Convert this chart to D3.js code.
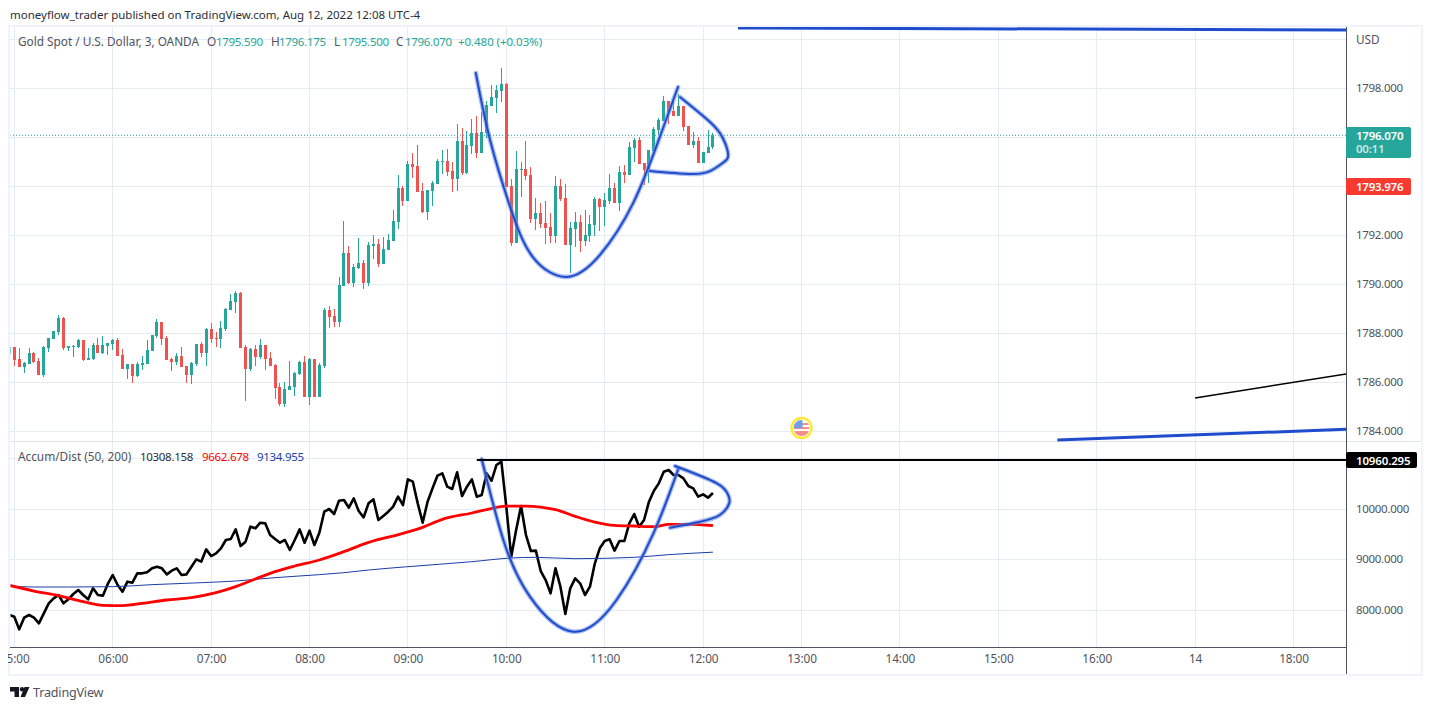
<!DOCTYPE html>
<html>
<head>
<meta charset="utf-8">
<script src="https://cdn.jsdelivr.net/npm/d3@7"></script>
<style>
  html, body { margin: 0; padding: 0; background: #fff; }
  svg { display: block; font-family: "Noto Sans", sans-serif; }
  .axis text { fill: #50535e; font-size: 11.5px; letter-spacing: -0.3px; font-family: "Noto Sans", sans-serif; }
  .axis.time text { font-size: 11.8px; letter-spacing: -0.1px; }
</style>
</head>
<body>
<svg id="chart" width="1432" height="710"></svg>
<script>
// bars are 3 minute candles, bar 0 is the 05:00 candle. first one is cut off by the pane
const firstBar = -1;

const opens = [1787.14,
  1787.43,1786.94,1786.61,1786.73,1787.18,1786.85,1786.28,1787.38,1787.75,1788.04,
  1788.61,1787.38,1787.43,1787.43,1787.71,1786.90,1786.94,1787.51,1787.18,1787.47,
  1787.55,1787.71,1787.10,1786.53,1786.73,1786.24,1786.69,1786.73,1787.26,1787.87,
  1788.45,1787.79,1786.94,1786.81,1787.06,1786.65,1786.28,1786.73,1787.55,1787.18,
  1788.16,1787.79,1787.75,1788.16,1788.94,1789.26,1789.63,1787.43,1786.53,1787.34,
  1787.02,1787.51,1786.98,1786.69,1785.79,1785.10,1785.67,1785.79,1786.32,1786.81,
  1785.38,1786.94,1785.38,1786.65,1788.94,1788.69,1788.45,1789.92,1791.26,1790.04,
  1790.65,1790.85,1790.04,1791.55,1791.63,1790.81,1791.39,1791.75,1792.53,1793.92,
  1793.39,1794.90,1794.81,1793.79,1792.94,1793.79,1794.08,1794.98,1795.02,1794.61,
  1794.28,1795.83,1794.53,1795.63,1796.16,1795.34,1796.16,1797.26,1797.59,1797.88,
  1798.16,1794.00,1791.68,1794.66,1794.70,1794.45,1792.66,1792.90,1792.49,1792.33,
  1791.96,1794.00,1793.51,1791.60,1792.25,1792.53,1791.76,1791.96,1792.41,1793.47,
  1793.15,1793.39,1793.92,1793.31,1794.57,1794.45,1795.55,1795.88,1794.94,1794.66,
  1795.43,1796.29,1796.66,1797.47,1797.07,1796.86,1797.27,1796.45,1795.68,1795.84,
  1794.94,1795.35,1795.59];
const highs = [1787.43,
  1787.43,1787.38,1786.81,1787.38,1787.22,1786.98,1787.47,1787.79,1788.08,1788.73,
  1788.65,1787.47,1787.51,1787.75,1787.71,1787.38,1787.59,1787.79,1787.87,1787.59,
  1787.75,1787.79,1787.34,1786.73,1786.73,1786.81,1787.06,1787.71,1787.92,1788.57,
  1788.45,1787.87,1786.98,1787.18,1787.43,1786.65,1786.81,1787.55,1787.63,1788.20,
  1788.40,1788.04,1788.49,1789.02,1789.59,1789.71,1789.67,1787.51,1787.38,1787.51,
  1787.75,1787.51,1787.22,1786.73,1785.96,1786.00,1786.85,1786.41,1786.85,1787.06,
  1786.98,1786.94,1786.77,1789.02,1789.10,1788.98,1790.28,1792.57,1791.55,1790.81,
  1791.88,1790.98,1791.71,1792.00,1791.83,1791.92,1792.04,1793.02,1794.45,1794.00,
  1795.02,1795.34,1795.67,1794.12,1793.83,1794.20,1795.10,1795.47,1795.51,1794.98,
  1796.53,1796.37,1796.24,1796.73,1796.85,1797.02,1797.47,1798.12,1798.12,1798.81,
  1798.20,1794.29,1795.43,1794.98,1795.84,1794.78,1793.51,1793.31,1793.39,1792.90,
  1794.41,1794.29,1794.09,1792.53,1792.94,1792.82,1793.02,1792.82,1793.55,1793.51,
  1793.72,1794.49,1794.13,1794.82,1794.86,1795.80,1795.96,1796.00,1794.94,1795.47,
  1796.41,1796.78,1797.68,1797.47,1797.43,1797.76,1797.27,1796.45,1796.21,1796.00,
  1795.39,1796.29,1796.175];
const lows = [1787.14,
  1786.66,1786.61,1786.38,1786.73,1786.77,1786.28,1786.20,1787.22,1787.75,1787.92,
  1787.30,1787.26,1787.02,1787.38,1786.85,1786.90,1786.90,1787.18,1787.14,1787.10,
  1787.30,1787.06,1786.53,1786.12,1785.96,1786.20,1786.49,1786.73,1787.26,1787.79,
  1787.51,1786.90,1786.45,1786.69,1786.61,1785.96,1785.91,1786.65,1787.02,1786.65,
  1787.59,1787.43,1787.38,1788.08,1788.94,1788.81,1787.38,1785.22,1786.45,1786.65,
  1786.94,1786.49,1786.65,1785.30,1785.02,1784.98,1785.67,1785.43,1786.28,1785.38,
  1785.06,1785.38,1785.38,1786.57,1788.20,1788.24,1788.24,1789.92,1790.00,1789.88,
  1790.61,1789.79,1789.92,1791.02,1790.69,1790.81,1791.39,1791.75,1792.24,1793.18,
  1793.39,1794.32,1793.75,1792.90,1792.61,1793.18,1794.08,1794.49,1794.41,1793.75,
  1793.79,1794.45,1794.49,1795.30,1795.14,1795.34,1795.96,1797.26,1796.98,1797.43,
  1793.96,1791.55,1791.68,1793.55,1794.25,1792.49,1792.21,1792.29,1791.64,1791.68,
  1791.68,1793.39,1791.60,1790.45,1791.51,1791.31,1791.55,1791.72,1791.96,1792.17,
  1792.37,1793.27,1793.31,1792.98,1794.13,1794.45,1794.98,1794.90,1794.04,1794.13,
  1795.43,1796.09,1796.66,1796.53,1796.86,1796.86,1796.25,1795.68,1795.55,1794.94,
  1794.94,1795.35,1795.50];
const closes = [1787.43,
  1786.90,1786.61,1786.76,1787.18,1786.81,1786.28,1787.43,1787.79,1788.08,1788.61,
  1787.38,1787.47,1787.47,1787.71,1786.90,1786.98,1787.51,1787.18,1787.51,1787.59,
  1787.71,1787.06,1786.53,1786.73,1786.24,1786.73,1786.77,1787.30,1787.92,1788.45,
  1787.75,1786.90,1786.81,1787.06,1786.61,1786.28,1786.77,1787.55,1787.18,1788.16,
  1787.75,1787.75,1788.20,1788.98,1789.30,1789.63,1787.38,1786.53,1787.34,1787.02,
  1787.51,1786.94,1786.65,1785.75,1785.10,1785.71,1785.83,1786.36,1786.81,1785.38,
  1786.94,1785.38,1786.69,1788.94,1788.65,1788.45,1789.96,1791.26,1790.04,1790.69,
  1790.85,1790.04,1791.59,1791.63,1790.81,1791.43,1791.79,1792.57,1793.92,1793.39,
  1794.90,1794.77,1793.75,1792.94,1793.83,1794.12,1795.02,1795.02,1794.57,1794.28,
  1795.83,1794.53,1795.67,1796.16,1795.34,1796.20,1797.30,1797.63,1797.92,1798.16,
  1793.96,1791.68,1794.70,1794.70,1794.41,1792.66,1792.90,1792.45,1792.29,1791.96,
  1794.00,1793.47,1791.60,1792.29,1792.53,1791.76,1792.00,1792.45,1793.47,1793.15,
  1793.43,1793.92,1793.31,1794.57,1794.45,1795.60,1795.88,1794.90,1794.66,1795.47,
  1796.33,1796.70,1797.47,1797.02,1796.86,1797.27,1796.41,1795.68,1795.84,1794.94,
  1795.39,1795.60,1796.07];

// Accum/Dist, one value per bar
const adValues = [7891,
  7858,7607,7838,7891,7838,7726,7924,8122,8221,8287,
  8122,8201,8307,8386,8287,8201,8419,8287,8274,8505,
  8683,8485,8353,8551,8531,8716,8716,8736,8815,8848,
  8815,8696,8769,8815,8683,8696,8848,8993,8947,9191,
  9059,9112,9211,9376,9396,9587,9257,9343,9640,9607,
  9719,9706,9475,9396,9323,9376,9178,9376,9587,9323,
  9561,9277,9521,9937,9990,9891,10155,10168,10016,10201,
  9950,9825,10102,10181,9772,9851,9937,10036,10234,10069,
  10577,10531,10102,9719,10135,10399,10650,10696,10432,10386,
  10716,10247,10432,10577,10234,10267,10696,10551,10861,10927,
  10036,9046,9574,10049,9475,9158,9165,8762,8584,8320,
  8815,8452,7911,8419,8617,8518,8287,8452,8914,9211,
  9356,9389,9165,9356,9356,9706,9891,9640,9772,10135,
  10353,10498,10729,10762,10663,10663,10597,10445,10399,10234,
  10280,10214,10308];

// the two averages, read at a handful of bars
const ma50Bars = [-1,4,9,14,18,22,26,31,36,41,45,49,53,57,62,67,72,79,83,87,93,96,100,104,107,110,114,118,122,126,130,133,137,142];
const ma50Values = [8478,8366,8274,8155,8082,8076,8122,8188,8234,8333,8452,8604,8749,8861,8980,9145,9330,9508,9627,9785,9911,9977,10049,10049,10029,9977,9845,9732,9666,9653,9640,9686,9686,9663];
const ma200Bars = [-1,4,11,20,28,38,45,49,53,62,67,72,80,93,101,106,114,126,133,142];
const ma200Values = [8465,8445,8445,8452,8492,8531,8564,8597,8630,8690,8729,8782,8848,8947,9020,9033,9006,9033,9086,9135];

// hand drawn cup and handle, [bar, value]
const cupPrice = [[93.8,1798.61],[96.7,1795.88],[100.8,1793.14],[105.4,1791.1],[112.3,1790.29],[119,1791.18],[125.8,1793.31],[131.2,1796],[134.9,1798.04]];
const handlePrice = [[135.3,1797.63],[141.4,1796.61],[144,1795.96],[145.1,1795.27],[144,1794.94],[141.4,1794.61],[137.3,1794.49],[129.2,1794.61]];
const cupAd = [[95,10980],[99.4,9376],[104.8,8254],[113.6,7561],[122.4,8188],[129.9,9508],[135,10795]];
const handleAd = [[134.3,10841],[142.8,10498],[145.1,10267],[145.3,10102],[143.4,9871],[139.4,9739],[133.3,9620]];

// straight trend lines, the last bar is past the right edge of the pane
const topLine = [[147.1,1800.45],[270.7,1800.37]];
const lowerLine = [[212,1783.63],[270.7,1784.07]];
const blackLine = [[240,1785.35],[270.7,1786.33]];
const adLevel = 10960.295;
const adLevelStartBar = 94;

const priceTicks = [1800,1798,1796,1794,1792,1790,1788,1786,1784];
const adTicks = [11000,10000,9000,8000];
const axisPriceLabels = [1798,1792,1790,1788,1786,1784];  // 1796 and 1794 are covered by the price tags
const adLabels = [10000,9000,8000];
const timeBars = [0,20,40,60,80,100,120,140,160,180,200,220,240,260];
const timeLabels = ["05:00","06:00","07:00","08:00","09:00","10:00","11:00","12:00","13:00","14:00","15:00","16:00","14","18:00"];
const lastPrice = 1796.07;
const otherPrice = 1793.976;
const eventBar = 160, eventPrice = 1784.12;

const candles = opens.map((o, i) => ({bar: firstBar + i, o, h: highs[i], l: lows[i], c: closes[i]}));

const UP = "#26a69a", DOWN = "#ef5350", GRID = "#e3ecf3", BRUSH = "#1e4ccc", AXIS = "#50535e";
const paneL = 10, paneR = 1346, frameT = 27, frameB = 674, sepY = 441, timeY = 647;

const svg = d3.select("#chart");
const x = d3.scaleLinear().domain([0, 20]).range([14.3, 112.7]);
const y = d3.scaleLinear().domain([1784, 1798]).range([431, 88]);
const yAd = d3.scaleLinear().domain([8000, 10000]).range([609.5, 508.5]);

svg.append("defs").append("clipPath").attr("id", "pane")
  .append("rect").attr("x", paneL + 0.5).attr("y", frameT).attr("width", paneR - paneL - 0.5).attr("height", timeY - frameT);
svg.select("defs").append("clipPath").attr("id", "timeClip")
  .append("rect").attr("x", 8).attr("y", timeY).attr("width", paneR - 8).attr("height", frameB - timeY);

// grid
const grid = svg.append("g").attr("stroke", GRID).attr("stroke-width", 1).attr("shape-rendering", "crispEdges");
grid.selectAll(".v").data(timeBars).join("line")
  .attr("x1", d => Math.floor(x(d)) + 0.5).attr("x2", d => Math.floor(x(d)) + 0.5)
  .attr("y1", frameT).attr("y2", timeY);
grid.selectAll(".p").data(priceTicks).join("line").attr("class", "p")
  .attr("x1", paneL).attr("x2", paneR)
  .attr("y1", d => Math.round(y(d)) + 0.5).attr("y2", d => Math.round(y(d)) + 0.5);
grid.selectAll(".a").data(adTicks).join("line").attr("class", "a")
  .attr("x1", paneL).attr("x2", paneR)
  .attr("y1", d => Math.round(yAd(d)) + 0.5).attr("y2", d => Math.round(yAd(d)) + 0.5);

// frame
svg.append("rect").attr("x", paneL - 1).attr("y", frameT - 1).attr("width", 1413).attr("height", frameB - frameT + 2)
  .attr("fill", "none").attr("stroke", "#f0f3fa").attr("stroke-width", 2);
svg.append("line").attr("x1", paneL).attr("x2", 1421).attr("y1", sepY + 0.5).attr("y2", sepY + 0.5)
  .attr("stroke", "#e0e3eb");

const plot = svg.append("g").attr("clip-path", "url(#pane)");

// last price dots
plot.append("line").attr("x1", paneL).attr("x2", paneR).attr("y1", y(lastPrice)).attr("y2", y(lastPrice))
  .attr("stroke", UP).attr("stroke-dasharray", "1 2");

// candles
const candleG = plot.append("g").attr("shape-rendering", "crispEdges");
candleG.selectAll(".wick").data(candles).join("rect").attr("class", "wick")
  .attr("x", d => Math.floor(x(d.bar))).attr("width", 1)
  .attr("y", d => y(d.h)).attr("height", d => Math.max(1, y(d.l) - y(d.h)))
  .attr("fill", d => d.c >= d.o ? UP : DOWN);
candleG.selectAll(".body").data(candles).join("rect").attr("class", "body")
  .attr("x", d => Math.floor(x(d.bar)) - 1).attr("width", 3)
  .attr("y", d => y(Math.max(d.o, d.c))).attr("height", d => Math.max(1, Math.abs(y(d.o) - y(d.c))))
  .attr("fill", d => d.c >= d.o ? UP : DOWN);

// indicator lines
const adLine = d3.line().x((d, i) => x(firstBar + i)).y(d => yAd(d));
plot.append("path").attr("d", adLine(adValues)).attr("fill", "none").attr("stroke", "#000").attr("stroke-width", 2.6).attr("stroke-linejoin", "round");
const maLine = bars => d3.line().curve(d3.curveMonotoneX).x((d, i) => x(bars[i])).y(d => yAd(d));
plot.append("path").attr("d", maLine(ma200Bars)(ma200Values)).attr("fill", "none").attr("stroke", "#1a3da8").attr("stroke-width", 1);
plot.append("path").attr("d", maLine(ma50Bars)(ma50Values)).attr("fill", "none").attr("stroke", "#ff0000").attr("stroke-width", 2.8);

// brush drawings
const brush = (pts, scaleY) => {
  const p = d3.line().curve(d3.curveNatural).x(d => x(d[0])).y(d => scaleY(d[1]))(pts);
  plot.append("path").attr("d", p).attr("fill", "none").attr("stroke", "#6f8fe4").attr("stroke-opacity", 0.6).attr("stroke-width", 4.6).attr("stroke-linecap", "round");
  plot.append("path").attr("d", p).attr("fill", "none").attr("stroke", BRUSH).attr("stroke-width", 2).attr("stroke-linecap", "round");
};
brush(cupPrice, y);
brush(handlePrice, y);
brush(cupAd, yAd);
brush(handleAd, yAd);

const straight = d3.line().x(d => x(d[0])).y(d => y(d[1]));
plot.append("path").attr("d", straight(topLine)).attr("fill", "none").attr("stroke", BRUSH).attr("stroke-width", 3);
plot.append("path").attr("d", straight(lowerLine)).attr("fill", "none").attr("stroke", BRUSH).attr("stroke-width", 3);
plot.append("path").attr("d", straight(blackLine)).attr("fill", "none").attr("stroke", "#000").attr("stroke-width", 1.6);
plot.append("line").attr("x1", x(adLevelStartBar)).attr("x2", paneR).attr("y1", yAd(adLevel)).attr("y2", yAd(adLevel))
  .attr("stroke", "#000").attr("stroke-width", 2);

// economic event marker
const ev = svg.append("g").attr("transform", `translate(${x(eventBar)},${y(eventPrice)})`);
ev.append("circle").attr("r", 10).attr("fill", "#fff").attr("stroke", "#ffe73b").attr("stroke-width", 2.5);
ev.append("clipPath").attr("id", "flag").append("circle").attr("r", 8);
const flag = ev.append("g").attr("clip-path", "url(#flag)");
flag.append("rect").attr("x", -8).attr("y", -8).attr("width", 16).attr("height", 16).attr("fill", "#fff");
[-5, -1, 3].forEach(s => flag.append("rect").attr("x", -8).attr("y", s).attr("width", 16).attr("height", 2).attr("fill", "#f58a86"));
flag.append("rect").attr("x", -8).attr("y", -8).attr("width", 9).attr("height", 8).attr("fill", "#6f9fe6");
flag.append("rect").attr("x", -8).attr("y", 5).attr("width", 16).attr("height", 3).attr("fill", "#f58a86");

// axis lines
svg.append("line").attr("x1", paneR + 0.5).attr("x2", paneR + 0.5).attr("y1", frameT).attr("y2", frameB).attr("stroke", AXIS);
svg.append("line").attr("x1", paneL).attr("x2", paneR).attr("y1", timeY + 0.5).attr("y2", timeY + 0.5).attr("stroke", AXIS);

// axes
const priceAxis = d3.axisRight(y).tickValues(axisPriceLabels).tickSize(0).tickPadding(10).tickFormat(d3.format(".3f"));
svg.append("g").attr("class", "axis").attr("transform", `translate(${paneR},0)`).call(priceAxis)
  .call(g => g.select(".domain").remove());
const adAxis = d3.axisRight(yAd).tickValues(adLabels).tickSize(0).tickPadding(10).tickFormat(d3.format(".3f"));
svg.append("g").attr("class", "axis").attr("transform", `translate(${paneR},0)`).call(adAxis)
  .call(g => g.select(".domain").remove());
const timeAxis = d3.axisBottom(x).tickValues(timeBars).tickSize(0).tickPadding(8).tickFormat((d, i) => timeLabels[i]);
svg.append("g").attr("clip-path", "url(#timeClip)").append("g").attr("class", "axis time").attr("transform", `translate(0,${timeY})`).call(timeAxis)
  .call(g => g.select(".domain").remove());

const text = (s, tx, ty, o = {}) => svg.append("text").attr("x", tx).attr("y", ty)
  .attr("font-size", o.size || 11.8).attr("fill", o.fill || AXIS).attr("font-weight", o.weight || 400)
  .attr("letter-spacing", o.ls || 0)
  .attr("text-anchor", o.anchor || "start").attr("opacity", o.opacity || 1).text(s);
const num = (s, tx, ty, o = {}) => text(s, tx, ty, Object.assign({size: 11.5, ls: -0.3}, o));

text("USD", 1356, 44);

// price tags
const tag = (y0, h, w, col) => svg.append("rect").attr("x", paneR).attr("y", y0).attr("width", w).attr("height", h).attr("rx", 2).attr("fill", col);
tag(127, 31, 65, UP);
num(d3.format(".3f")(lastPrice), 1356, 139.5, {fill: "#fff", weight: 600, ls: -0.25});
num("00:11", 1356, 153, {fill: "#fff", opacity: 0.75, weight: 600, ls: -0.25});
tag(178, 17, 65, "#f7392f");
num(d3.format(".3f")(otherPrice), 1356, 191, {fill: "#fff", weight: 600, ls: -0.25});
tag(452, 16, 71, "#000");
num(d3.format(".3f")(adLevel), 1356, 464.5, {fill: "#fff", weight: 600, ls: -0.15});

// header and legends
text("moneyflow_trader published on TradingView.com, Aug 12, 2022 12:08 UTC-4", 10, 19, {fill: "#2a2e39", size: 11.5});
text("Gold Spot / U.S. Dollar, 3, OANDA", 18, 46);
[["O", 207, "1795.590", 216], ["H", 271, "1796.175", 279], ["L", 334, "1795.500", 342], ["C", 396, "1796.070", 405]].forEach(r => {
  text(r[0], r[1], 46);
  num(r[2], r[3], 46, {fill: UP});
});
num("+0.480 (+0.03%)", 458, 46, {fill: UP, ls: -0.05});
text("Accum/Dist (50, 200)", 18, 461);
num("10308.158", 140, 461, {fill: "#2a2e39"});
num("9662.678", 202, 461, {fill: "#ff0000"});
num("9134.955", 257, 461, {fill: "#1a3da8"});

// tradingview logo
const logo = svg.append("g").attr("fill", "#131722");
logo.append("path").attr("d", "M10 687h9v10h-4.5v-5.5H10z");
logo.append("circle").attr("cx", 22).attr("cy", 689.2).attr("r", 2.2);
logo.append("path").attr("d", "M24.5 687H29.5L25 697H20.5z");
text("TradingView", 33, 697, {size: 12.6, fill: "#50535e", ls: -0.2});
</script>
</body>
</html>
